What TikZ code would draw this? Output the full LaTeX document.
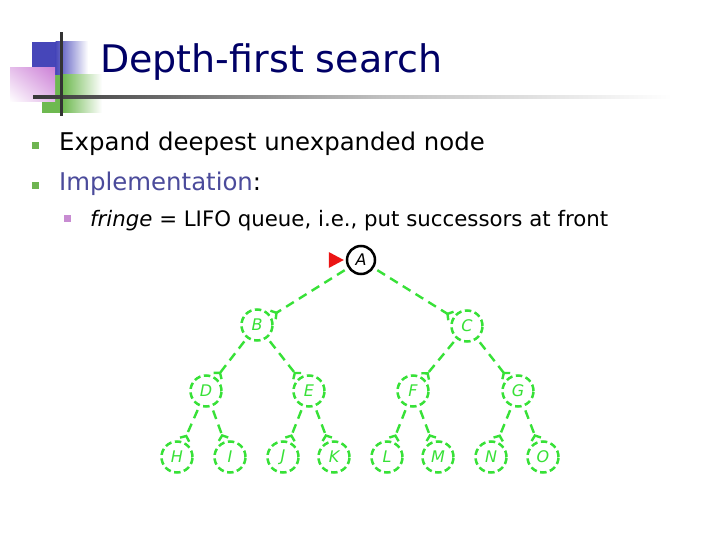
\documentclass[tikz,border=0pt]{standalone}
\usepackage{fontspec}
\setmainfont{DejaVu Sans}
\usetikzlibrary{arrows.meta,shadings}
\definecolor{navy}{RGB}{0,0,102}
\definecolor{impl}{RGB}{75,75,155}
\definecolor{bulgreen}{RGB}{110,180,80}
\definecolor{bulpink}{RGB}{200,140,210}
\definecolor{logoblue}{RGB}{70,70,185}
\definecolor{logogreen}{RGB}{110,185,80}
\definecolor{logopink}{RGB}{205,130,215}
\definecolor{treegreen}{RGB}{55,225,55}
\definecolor{flagred}{RGB}{235,20,20}
\tikzset{
  txt/.style={anchor=base west, inner sep=0pt},
  tn/.style={circle, draw=treegreen, dash pattern=on 6.5pt off 3.5pt, line width=2.5pt,
    minimum size=31pt, inner sep=0pt, text=treegreen, font=\itshape\fontsize{16}{16}\selectfont},
  te/.style={draw=treegreen, line width=2.4pt, dash pattern=on 9pt off 6pt,
    -{Straight Barb[reversed,length=4pt,width=10pt]}, shorten <=4pt, shorten >=1pt}
}
\begin{document}
\begin{tikzpicture}[x=1pt,y=-1pt]
\useasboundingbox (0,0) rectangle (720,540);
\fill[white] (0,0) rectangle (720,540);
% logo
\fill[logoblue] (32,42) rectangle (56,75);
\shade[left color=logoblue, right color=white] (55.5,42) rectangle (88,75);
\fill[logogreen] (42,75) rectangle (63,113);
\shade[left color=logogreen, right color=white] (62.5,75) rectangle (102,113);
\shade[upper right=logopink, upper left=logopink!50!white, lower left=white, lower right=logopink!55!white] (10,68) rectangle (55,102);
\shade[left color=black!78, right color=black!25] (33,95.5) rectangle (380,98.5);
\shade[left color=black!25, right color=white] (380,95.5) rectangle (672,98.5);
\fill[black!80] (59.5,32) rectangle (62.5,116);
% title
\node[txt, text=navy, font=\fontsize{38}{38}\selectfont] (title) at (100,73) {Depth-first search};
% bullets
\fill[bulgreen] (32,142) rectangle (39,149);
\fill[bulgreen] (32,182) rectangle (39,189);
\fill[bulpink] (64,215) rectangle (71,222);
\node[txt, font=\fontsize{24.4}{24.4}\selectfont] (l1) at (59,151) {Expand deepest unexpanded node};
\node[txt, font=\fontsize{24.4}{24.4}\selectfont] (l2) at (59,191) {\textcolor{impl}{Implementation}:};
\node[txt, font=\fontsize{21.3}{21.3}\selectfont] (l3) at (90,226) {\textit{fringe} = LIFO queue, i.e., put successors at front};
% tree
\node[circle, draw=black, line width=2.5pt, minimum size=28pt, inner sep=0pt, font=\itshape\fontsize{16}{16}\selectfont] (A) at (361,260) {A};
\fill[flagred] ([xshift=-17pt,yshift=8pt]A.west) -- ([xshift=-17pt,yshift=-8pt]A.west) -- ([xshift=-2pt]A.west) -- cycle;
\node[tn] (B) at (257,325) {B};
\node[tn] (C) at (467,326) {C};
\node[tn] (D) at (206,391) {D};
\node[tn] (E) at (309,391) {E};
\node[tn] (F) at (413,391) {F};
\node[tn] (G) at (518,391) {G};
\node[tn] (H) at (177,457) {H};
\node[tn] (I) at (230,457) {I};
\node[tn] (J) at (283,457) {J};
\node[tn] (K) at (334,457) {K};
\node[tn] (L) at (387,457) {L};
\node[tn] (M) at (438,457) {M};
\node[tn] (N) at (491,457) {N};
\node[tn] (O) at (543,457) {O};
\draw[te] (A) -- (B);
\draw[te] (A) -- (C);
\draw[te] (B) -- (D);
\draw[te] (B) -- (E);
\draw[te] (C) -- (F);
\draw[te] (C) -- (G);
\draw[te] (D) -- (H);
\draw[te] (D) -- (I);
\draw[te] (E) -- (J);
\draw[te] (E) -- (K);
\draw[te] (F) -- (L);
\draw[te] (F) -- (M);
\draw[te] (G) -- (N);
\draw[te] (G) -- (O);
\end{tikzpicture}
\end{document}
